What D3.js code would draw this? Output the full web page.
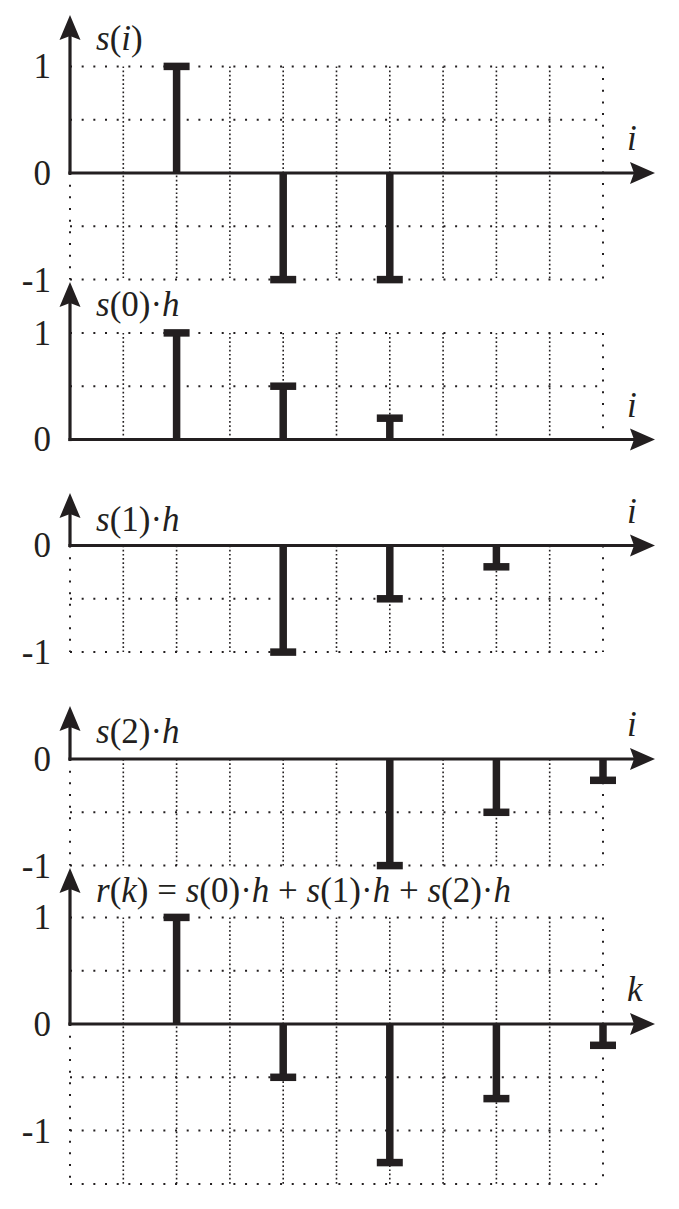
<!DOCTYPE html>
<html>
<head>
<meta charset="utf-8">
<script src="https://d3js.org/d3.v7.min.js"></script>
</head>
<body style="margin:0">
<script>
    // values
    var sIdx = [0, 1, 2];
    var sVals = [1, -1, -1];
    var s0hIdx = [0, 1, 2];
    var s0hVals = [1, 0.5, 0.2];
    var s1hIdx = [1, 2, 3];
    var s1hVals = [-1, -0.5, -0.2];
    var s2hIdx = [2, 3, 4];
    var s2hVals = [-1, -0.5, -0.2];
    var rIdx = [0, 1, 2, 3, 4];
    var rVals = [1, -0.5, -1.3, -0.7, -0.2];

    var titles = ['s(i)', 's(0)\u00B7h', 's(1)\u00B7h', 's(2)\u00B7h', 'r(k) = s(0)\u00B7h + s(1)\u00B7h + s(2)\u00B7h'];
    var xLabels = ['i', 'i', 'i', 'i', 'k'];
    var yTicks = [[1, 0, -1], [1, 0], [0, -1], [0, -1], [1, 0, -1]];
    var yRanges = [[-1, 1], [0, 1], [-1, 0], [-1, 0], [-1.5, 1]];

    var ink = '#231f20';
    var width = 679, height = 1209;
    var unit = 106.6;          // px per unit, both axes
    var x0 = 70, fs = 35;
    var fontStack = "'Liberation Serif', 'Tinos', 'Times New Roman', 'FreeSerif', serif";

    // layout of each panel: zero line, arrow tip and title baseline
    var layout = [
      {zero: 173,   tip: 15,  title: 50},
      {zero: 439.5, tip: 282, title: 316},
      {zero: 545.5, tip: 493, title: 531},
      {zero: 759,   tip: 706, title: 743},
      {zero: 1024,  tip: 868, title: 902}
    ];
    var series = [[sIdx, sVals], [s0hIdx, s0hVals], [s1hIdx, s1hVals], [s2hIdx, s2hVals], [rIdx, rVals]];

    var x = d3.scaleLinear().domain([-1, 4]).range([x0, x0 + 5 * unit]);

    var svg = d3.select('body').append('svg')
      .attr('width', width)
      .attr('height', height)
      .style('font-family', fontStack);

    function label(px, py, anchor) {
      return svg.append('text')
        .attr('x', px).attr('y', py)
        .attr('text-anchor', anchor || 'start')
        .attr('fill', ink)
        .style('font', fs + 'px ' + fontStack);
    }

    function richText(sel, str) {
      // latin letters italic, everything else upright
      var runs = str.match(/[a-z]+|[^a-z]+/g);
      runs.forEach(function (r) {
        sel.append('tspan')
          .style('font-style', /[a-z]/.test(r) ? 'italic' : 'normal')
          .text(r);
      });
    }

    var sparse = '2 9.67', dense = '1.7 2.5';

    function drawPanel(p) {
      var L = layout[p];
      var lo = yRanges[p][0], hi = yRanges[p][1];
      var y = d3.scaleLinear().domain([0, 1]).range([L.zero, L.zero - unit]);
      var g = svg.append('g');
      var grid = g.append('g')
        .attr('stroke', ink)
        .attr('stroke-width', 2)
        .attr('fill', 'none');

      // horizontal grid lines
      d3.range(lo, hi + 0.01, 0.5).filter(v => Math.abs(v) > 1e-6).forEach(function (v) {
        grid.append('line')
          .attr('x1', x(-1)).attr('x2', x(4))
          .attr('y1', y(v)).attr('y2', y(v))
          .attr('stroke-dasharray', sparse);
      });
      // vertical grid lines
      d3.range(-1, 4.01, 0.5).forEach(function (t, j) {
        var top = y(hi), bot = y(lo);
        var dash = dense;
        if (j === 0) { top = y(Math.min(0, hi)); dash = sparse; }
        if (t === 4) dash = sparse;
        if (Math.abs(bot - top) < 1) return;
        grid.append('line')
          .attr('x1', x(t)).attr('x2', x(t))
          .attr('y1', top).attr('y2', bot)
          .attr('stroke-width', dash === dense ? 1.6 : 2)
          .attr('stroke-dasharray', dash);
      });

      // stems
      var idx = series[p][0], vals = series[p][1];
      var stems = g.append('g').attr('stroke', ink).attr('stroke-width', 7.5);
      idx.forEach(function (k, n) {
        var v = vals[n];
        stems.append('line')
          .attr('x1', x(k)).attr('x2', x(k))
          .attr('y1', y(0)).attr('y2', y(v));
        stems.append('line')
          .attr('x1', x(k) - 13).attr('x2', x(k) + 13)
          .attr('y1', y(v)).attr('y2', y(v));
      });

      // axes with arrows
      var ax = g.append('g').attr('stroke', ink).attr('stroke-width', 3.2);
      ax.append('line')
        .attr('x1', x0).attr('x2', x0)
        .attr('y1', L.zero + 1.6).attr('y2', L.tip + 16);
      ax.append('line')
        .attr('x1', x0 - 1.6).attr('x2', 640)
        .attr('y1', L.zero).attr('y2', L.zero);
      g.append('path')
        .attr('d', `M${x0},${L.tip} L${x0 + 10.5},${L.tip + 25} L${x0},${L.tip + 21} L${x0 - 10.5},${L.tip + 25} Z`)
        .attr('fill', ink);
      g.append('path')
        .attr('d', `M655,${L.zero} L630,${L.zero - 11} L634,${L.zero} L630,${L.zero + 11} Z`)
        .attr('fill', ink);

      // tick labels: positions from the axis generator, text drawn as plain svg text
      var yAxis = d3.axisLeft(y)
        .tickValues(yTicks[p])
        .tickSize(0)
        .tickPadding(19)
        .tickFormat(d => String(d));
      var ya = g.append('g')
        .attr('transform', `translate(${x0},0)`)
        .call(yAxis);
      ya.select('.domain').remove();
      ya.selectAll('.tick').each(function (d) {
        label(x0 - 19, y(d) + 0.34 * fs, 'end').text(String(d));
      });
      ya.selectAll('text').remove();

      // title and x label
      label(96, L.title).call(richText, titles[p]);
      label(627, L.zero - 23).style('font-style', 'italic').text(xLabels[p]);
    }

    for (var p = 0; p < 5; p++) drawPanel(p);
</script>
</body>
</html>
